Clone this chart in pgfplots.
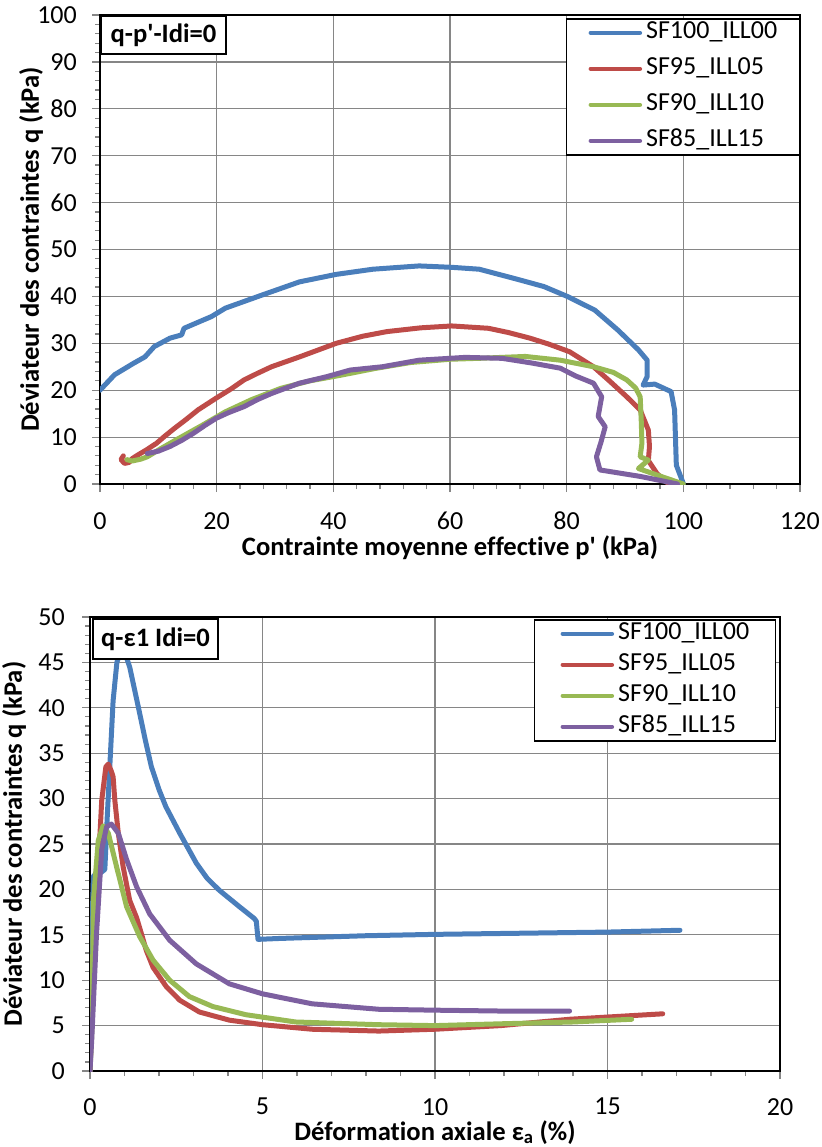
\documentclass[border=0pt]{standalone}
\usepackage{pgfplots}
\pgfplotsset{compat=1.18}
\usepackage{fontspec}
\setmainfont{Carlito}[Ligatures={NoCommon}]
\definecolor{sblue}{RGB}{74,126,187}
\definecolor{sred}{RGB}{190,75,72}
\definecolor{sgreen}{RGB}{152,185,84}
\definecolor{spurple}{RGB}{125,96,160}
\definecolor{gridgray}{RGB}{134,134,134}
\newcommand{\fs}{\fontsize{26bp}{31bp}\selectfont}
\newcommand{\fl}{\fontsize{26.6bp}{31bp}\selectfont}
\pgfplotsset{
  xl/.style={
    scale only axis,
    grid=major,
    major grid style={color=gridgray, line width=1.2bp},
    axis line style={black, line width=2.2bp},
    tick align=outside,
    tick pos=left,
    major tick length=8bp,
    minor tick length=5bp,
    tick style={color=gridgray, line width=1.2bp},
    minor tick num=4,
    tick label style={font=\fs, inner sep=0pt},
    /pgf/number format/assume math mode=true,
    label style={font=\fl\bfseries, text height=18bp, text depth=6bp, inner sep=0pt},
    legend cell align=left,
    legend image code/.code={\draw[#1, line width=4.5bp, line cap=round] (2bp,0bp) -- (51bp,0bp);},
    every axis plot/.append style={line width=5bp, line join=round, line cap=round},
  }
}
\begin{document}
\begin{tikzpicture}
\useasboundingbox (0,0) rectangle (822bp,-1147bp);
\begin{axis}[xl,
  width=700bp, height=469bp, at={(100bp,-484bp)}, anchor=south west,
  xmin=0, xmax=120, ymin=0, ymax=100,
  xtick={0,20,...,120}, ytick={0,10,...,100},
  xticklabel style={yshift=-20bp},
  yticklabel style={xshift=-15bp},
  xlabel={Contrainte moyenne effective p\textquotesingle{} (kPa)},
  ylabel={Déviateur des contraintes q (kPa)},
  xlabel style={at={(axis description cs:0.5,0)}, anchor=center, yshift=-65bp},
  ylabel style={at={(axis description cs:0,0.5)}, anchor=center, yshift=67bp},
  legend style={draw=black, line width=1.5bp, fill=white, font=\fs,
    at={(rel axis cs:1,1)}, anchor=north east, yshift=-3bp,
    inner xsep=22bp, inner ysep=2bp, row sep=12bp, column sep=4bp,
    nodes={inner sep=0pt, text height=18bp, text depth=6bp}},
]
\addplot[sblue] coordinates {(0,20) (2.5,23.3) (5.7,25.7) (7.7,27.1) (9.3,29.3) (12,31.1) (14,31.8) (14.4,33.2) (19.1,35.7) (21.5,37.5) (27.8,40.3) (34.2,43.1) (40.5,44.7) (46.8,45.8) (54.7,46.5) (60.3,46.2) (65,45.8) (71.4,43.7) (76.1,42.1) (80.1,40) (84.8,37.1) (88.8,32.8) (92.3,28.6) (93.8,26.4) (93.8,22.9) (93.1,21.1) (95.1,21.3) (97.9,19.7) (98.5,15.8) (98.8,4) (100,0.1)};
\addlegendentry{SF100\_ILL00}
\addplot[sred] coordinates {(4.0,6.0) (3.6,5.2) (4.2,4.4) (5.0,4.6) (5.5,5.4) (6.5,6.2) (8.0,7.3) (9.7,8.7) (11.2,10.3) (12.8,11.9) (14.8,13.8) (16.8,15.8) (19.9,18.3) (22.5,20.3) (24.7,22.2) (27.0,23.6) (29.4,25) (34.2,27.1) (40.5,30) (45,31.5) (49.2,32.5) (55,33.3) (60.3,33.7) (66.6,33.2) (70,32.3) (73.7,31.1) (77,29.8) (80.5,28.2) (84.6,25) (87.5,21.8) (90.3,18.6) (92.6,15.8) (94,11.5) (94.2,8) (94,5) (95.5,2.2) (97.5,0)};
\addlegendentry{SF95\_ILL05}
\addplot[sgreen] coordinates {(4.6,5.2) (5.5,4.9) (7,5.3) (8.1,5.8) (10.5,7.6) (13.6,9.8) (17.5,12.5) (21.5,15.4) (26,18) (31,20.4) (36,22) (41.3,23.2) (47,24.6) (53.2,25.9) (60,26.6) (65,26.8) (72.9,27.2) (78.9,26.4) (84.6,25) (88,23.8) (90.3,22.2) (91.8,20.5) (92.6,18.6) (92.8,13) (92.9,8.7) (92.6,5.8) (94,5.1) (92.3,3.3) (96,1.7) (100,0)};
\addlegendentry{SF90\_ILL10}
\addplot[spurple] coordinates {(8.1,6.5) (10,7.0) (12,8) (14,9.3) (16,10.8) (18,12.5) (19.9,14) (22,15.2) (24.7,16.5) (27,18) (29.4,19.3) (32,20.5) (34.2,21.5) (38.9,22.9) (42.9,24.3) (48.4,25) (54.7,26.4) (62.6,27) (68.9,26.8) (74,25.8) (78.9,24.7) (81.6,23) (84.6,21.5) (86,18.6) (85.4,14.4) (86.6,12.2) (85.9,9) (85.1,5.8) (85.7,3) (92.7,1.6) (99,0)};
\addlegendentry{SF85\_ILL15}
\node[draw=black, line width=2bp, fill=white, anchor=north west, minimum width=125bp, minimum height=38bp, inner sep=0pt, font=\fl\bfseries] at (rel axis cs:0,1) {q-p\textquotesingle-Idi=0};
\end{axis}

\begin{axis}[xl,
  width=690bp, height=454bp, at={(90bp,-1071bp)}, anchor=south west,
  xmin=0, xmax=20, ymin=0, ymax=50,
  xtick={0,5,...,20}, ytick={0,5,...,50},
  xticklabel style={yshift=-19bp},
  yticklabel style={xshift=-17bp},
  xlabel={Déformation axiale ε\textsubscript{a} (\%)},
  ylabel={Déviateur des contraintes q (kPa)},
  xlabel style={at={(axis description cs:0.5,0)}, anchor=center, yshift=-63bp},
  ylabel style={at={(axis description cs:0,0.5)}, anchor=center, yshift=74bp},
  legend style={draw=black, line width=1.5bp, fill=white, font=\fs,
    at={(rel axis cs:1,1)}, anchor=north east, xshift=-4bp, yshift=-2bp,
    inner xsep=26bp, inner ysep=2bp, row sep=7bp, column sep=4bp,
    nodes={inner sep=0pt, text height=18bp, text depth=6bp}},
]
\addplot[sblue] coordinates {(0,0) (0.03,8) (0.06,16) (0.1,21.5) (0.3,21.8) (0.43,22.2) (0.5,28) (0.58,34) (0.67,40.8) (0.78,45) (0.9,46.5) (1.0,46.2) (1.15,44.5) (1.4,40.1) (1.6,36.5) (1.78,33.5) (2.0,31) (2.2,29.1) (2.6,26.2) (3.08,22.9) (3.4,21.2) (3.75,19.9) (4.33,18.1) (4.76,16.8) (4.82,16.5) (4.87,14.5) (5.5,14.6) (8,14.9) (10,15.05) (12,15.15) (15,15.3) (17.1,15.5)};
\addlegendentry{SF100\_ILL00}
\addplot[sred] coordinates {(0,0) (0.1,11.5) (0.24,22.5) (0.34,29.8) (0.46,33.5) (0.53,33.8) (0.62,33) (0.67,32.4) (0.72,29.8) (0.82,26.2) (0.96,22.5) (1.15,18.8) (1.35,16.9) (1.5,15) (1.63,13.3) (1.83,11.4) (2.21,9.3) (2.6,7.8) (3.17,6.5) (4.04,5.6) (5,5.1) (6.44,4.6) (8.37,4.4) (10,4.6) (11.9,5.0) (13.9,5.7) (16.6,6.3)};
\addlegendentry{SF95\_ILL05}
\addplot[sgreen] coordinates {(0,0) (0.05,4.1) (0.1,18.8) (0.24,25.4) (0.38,27) (0.53,26.2) (0.77,22.5) (1.06,18.1) (1.44,14.8) (1.83,12.2) (2.31,10) (2.88,8.2) (3.56,7.1) (4.52,6.2) (5.96,5.4) (8.37,5.1) (10,5.0) (11.9,5.2) (14,5.4) (15.7,5.7)};
\addlegendentry{SF90\_ILL10}
\addplot[spurple] coordinates {(0,0) (0.05,3.4) (0.19,15.2) (0.34,24.4) (0.48,26.9) (0.62,27.2) (0.82,26.2) (1.06,23.3) (1.35,20.3) (1.73,17.3) (2.31,14.4) (3.08,11.8) (4.04,9.6) (5,8.5) (6.44,7.4) (8.37,6.8) (10,6.7) (12,6.6) (13.9,6.6)};
\addlegendentry{SF85\_ILL15}
\node[draw=black, line width=2bp, fill=white, anchor=north west, minimum width=125bp, minimum height=40bp, inner sep=0pt, font=\fl\bfseries] at ([xshift=2bp,yshift=-1bp]rel axis cs:0,1) {q-ε1 Idi=0};
\end{axis}
\end{tikzpicture}
\end{document}
